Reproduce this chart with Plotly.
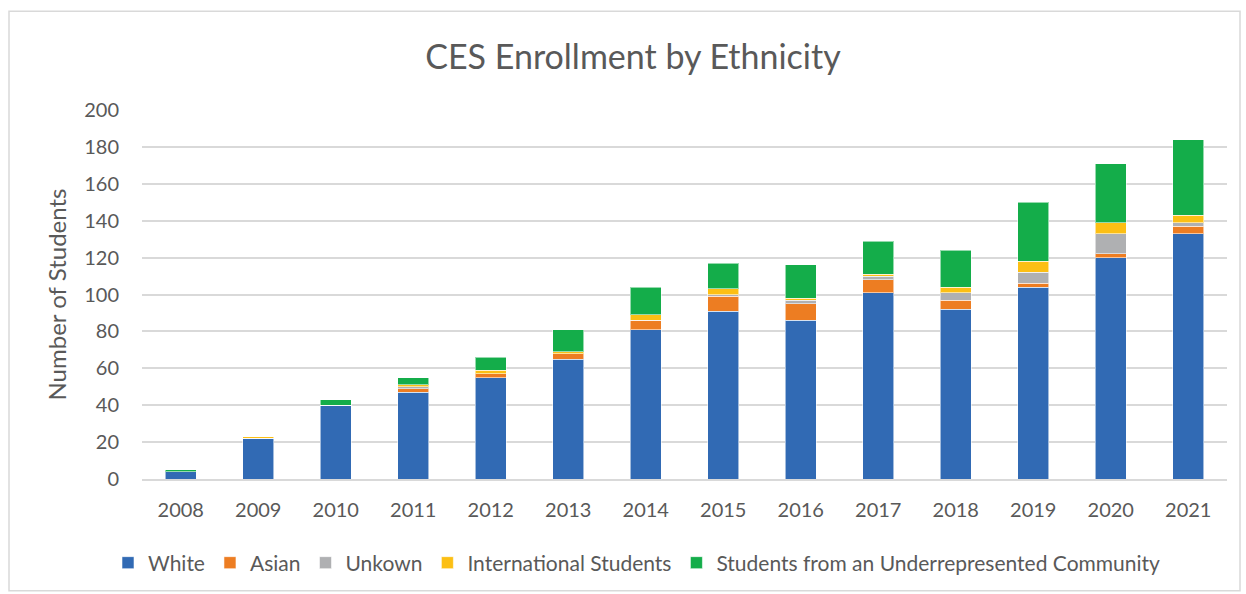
import plotly.graph_objects as go

years = ["2008", "2009", "2010", "2011", "2012", "2013", "2014",
         "2015", "2016", "2017", "2018", "2019", "2020", "2021"]
white = [4, 22, 40, 47, 55, 65, 81, 91, 86, 101, 92, 104, 120, 133]
asian = [0, 0, 0, 2, 2, 3, 5, 8, 9, 7, 5, 2, 2, 4]
unknown = [0, 0, 0, 1, 0, 0, 0, 1, 2, 2, 4, 6, 11, 2]
international = [0, 1, 0, 1, 2, 1, 3, 3, 1, 1, 3, 6, 6, 4]
underrep = [1, 0, 3, 4, 7, 12, 15, 14, 18, 18, 20, 32, 32, 41]

series = [
    ("White", white, "#316AB4"),
    ("Asian", asian, "#ED7D22"),
    ("Unkown", unknown, "#AFB0B2"),
    ("International Students", international, "#FCBF14"),
    ("Students from an Underrepresented Community", underrep, "#14AD4A"),
]

FONT = "Lato, 'Open Sans', sans-serif"
GREY = "#595959"

fig = go.Figure()
for name, vals, col in series:
    fig.add_trace(go.Bar(
        x=years, y=vals, name=name,
        marker=dict(color=col, line=dict(color="rgba(255,255,255,0.55)", width=1)),
    ))

W, H = 1246, 594
ml, mr, mt, mb = 142, 19, 110, 114
pw, ph = W - ml - mr, H - mt - mb

fig.update_layout(
    width=W, height=H,
    barmode="stack", bargap=0.6,
    margin=dict(l=ml, r=mr, t=mt, b=mb),
    paper_bgcolor="white", plot_bgcolor="white",
    font=dict(family=FONT, color=GREY, size=20),
    title=dict(text="CES Enrollment by Ethnicity", x=633 / W, xanchor="center",
               y=1 - 57 / H, yanchor="middle",
               font=dict(size=34, color=GREY, family=FONT)),
    legend=dict(orientation="h", x=(637 - ml) / pw, xanchor="center",
                y=-(563 - 480) / ph, yanchor="middle",
                font=dict(size=21, color=GREY, family=FONT),
                traceorder="normal"),
    yaxis=dict(range=[0, 200], dtick=20, showgrid=True, gridcolor="#D9D9D9", gridwidth=1.5,
               zeroline=False, showline=False, ticks="", ticklen=0,
               ticklabelstandoff=22,
               tickfont=dict(size=20, color=GREY),
               title=dict(text="Number of Students", font=dict(size=24, color=GREY), standoff=10)),
    xaxis=dict(showline=True, linecolor="#D9D9D9", linewidth=1.5, ticks="",
               ticklabelstandoff=12,
               tickfont=dict(size=20, color=GREY)),
    showlegend=True,
)

# chart area border
fig.add_shape(type="rect", xref="paper", yref="paper",
              x0=(9 - ml) / pw, x1=(1240 - ml) / pw,
              y0=-(592 - mt - ph) / ph, y1=1 + (mt - 11) / ph,
              line=dict(color="#D9D9D9", width=1.5), fillcolor="rgba(0,0,0,0)", layer="below")

fig.write_html("out.html")
